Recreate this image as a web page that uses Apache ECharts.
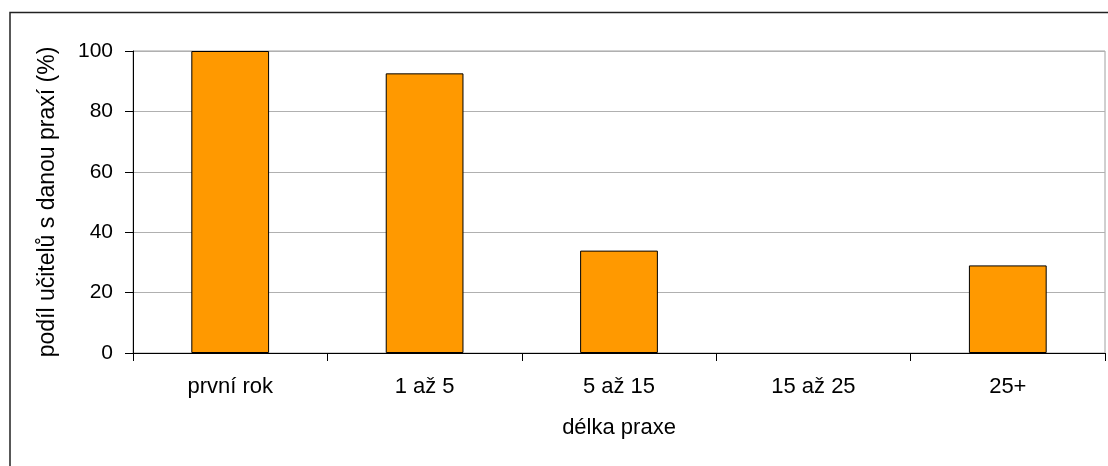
<!DOCTYPE html>
<html>
<head>
<meta charset="utf-8">
<script src="https://cdn.jsdelivr.net/npm/echarts@6/dist/echarts.min.js"></script>
<style>
  html, body { margin: 0; padding: 0; background: #fff; }
  #chart { width: 1108px; height: 466px; }
</style>
</head>
<body>
<div id="chart"></div>
<script>
// Share of teachers by length of teaching practice
const categories = ['první rok', '1 až 5', '5 až 15', '15 až 25', '25+'];
const shares = [100, 92.6, 33.9, 0, 29];
const yTicks = { min: 0, max: 100, interval: 20 };

const font = '"Liberation Sans", Arial, sans-serif';
const chart = echarts.init(document.getElementById('chart'), null, { renderer: 'canvas' });

// zero-height bars get no outline so nothing is stroked along the axis
const barData = shares.map(v => v === 0
  ? { value: v, itemStyle: { borderWidth: 0 } }
  : v);

chart.setOption({
  animation: false,
  backgroundColor: '#ffffff',
  textStyle: { fontFamily: font },
  graphic: [{
    type: 'rect',
    shape: { x: 10, y: 12.5, width: 1200, height: 500 },
    style: { fill: 'none', stroke: '#222', lineWidth: 1.5 },
    z: 0
  }],
  grid: {
    left: 133, right: 3, top: 51, bottom: 113,
    show: true, borderColor: '#a0a0a0', borderWidth: 1, backgroundColor: 'transparent'
  },
  xAxis: {
    type: 'category',
    data: categories,
    name: 'délka praxe',
    nameLocation: 'middle',
    nameGap: 64,
    nameTextStyle: { fontSize: 22, color: '#000', fontFamily: font },
    axisLine: { lineStyle: { color: '#000', width: 1 } },
    axisTick: { show: true, length: 8, lineStyle: { color: '#000' } },
    axisLabel: { fontSize: 22, color: '#000', margin: 23, fontFamily: font },
    splitLine: { show: false }
  },
  yAxis: {
    type: 'value',
    min: yTicks.min, max: yTicks.max, interval: yTicks.interval,
    name: 'podíl učitelů s danou praxí (%)',
    nameLocation: 'middle',
    nameGap: 74,
    nameTextStyle: { fontSize: 23, color: '#000', fontFamily: font },
    axisLine: { show: true, lineStyle: { color: '#000', width: 1 } },
    axisTick: { show: true, length: 8, lineStyle: { color: '#000' } },
    axisLabel: { fontSize: 21, color: '#000', margin: 20, fontFamily: font },
    splitLine: { show: true, lineStyle: { color: '#b0b0b0', width: 1 } }
  },
  series: [{
    type: 'bar',
    data: barData,
    barWidth: '40%',
    itemStyle: { color: '#FF9900', borderColor: '#000', borderWidth: 1 }
  }]
});
</script>
</body>
</html>
